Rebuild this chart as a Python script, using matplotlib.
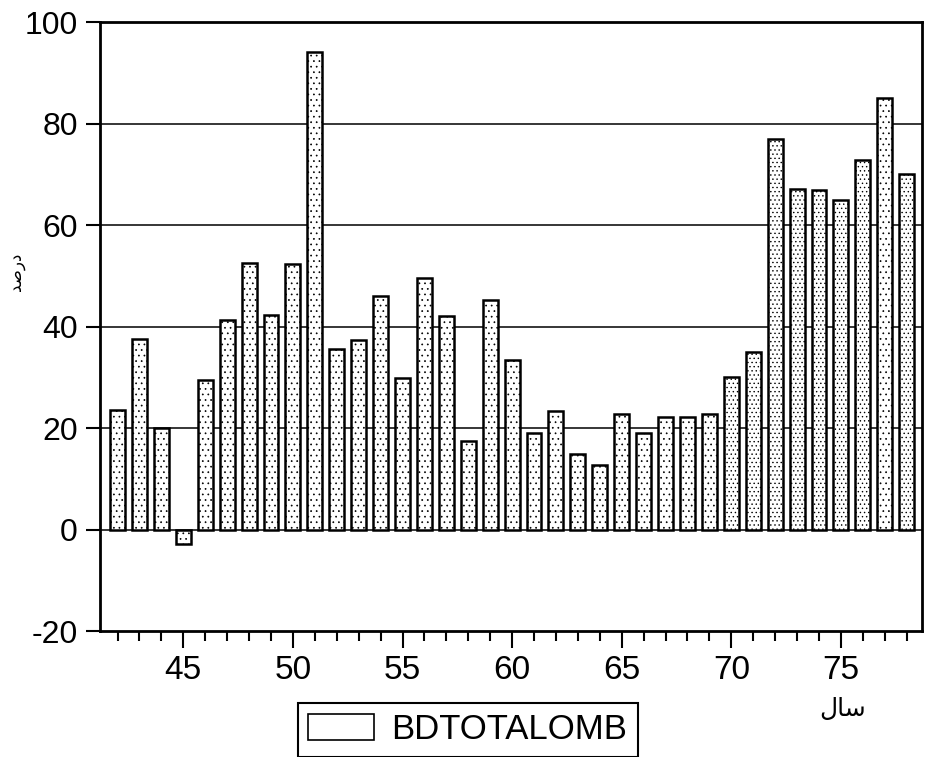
import matplotlib.pyplot as plt
from matplotlib.ticker import MultipleLocator

years = list(range(42, 79))
values = [23.6, 37.6, 20.1, -2.8, 29.4, 41.3, 52.5, 42.3, 52.4, 94.0,
          35.5, 37.4, 46.1, 29.8, 49.5, 42.1, 17.4, 45.3, 33.4, 19.0,
          23.3, 14.8, 12.7, 22.7, 19.0, 22.2, 22.2, 22.8, 30.1, 34.9,
          77.0, 67.1, 67.0, 65.0, 72.9, 85.0, 70.1]
series_name = "BDTOTALOMB"
# arabic labels written in visual order with presentation forms
ylabel_text = "\ufeaa\ufebb\u0631\u062f"   # darsad
xlabel_text = "\ufedd\ufe8e\ufeb3"          # sal

plt.rcParams['font.family'] = ['Liberation Sans', 'DejaVu Sans']
plt.rcParams['hatch.linewidth'] = 0.5
plt.rcParams['axes.unicode_minus'] = False

fig = plt.figure(figsize=(9.26, 7.57), dpi=100)
ax = fig.add_axes([0.108, 0.1664, 0.8877, 0.8045])

dense = {70, 71, 72, 73, 74, 75, 76, 78}
for yr, v in zip(years, values):
    ax.bar(yr, v, width=0.68, color='white', edgecolor='black',
           linewidth=1.8, hatch='....' if yr in dense else '...', zorder=3)

# legend proxy
ax.bar([0], [0], width=0, color='white', edgecolor='black', linewidth=1.2,
       label=series_name)

for g in [0, 20, 40, 60, 80]:
    ax.axhline(g, color='black', linewidth=1.1, zorder=1)

ax.set_xlim(41.2, 78.7)
ax.set_ylim(-20, 100)
ax.xaxis.set_major_locator(MultipleLocator(5))
ax.xaxis.set_minor_locator(MultipleLocator(1))
ax.yaxis.set_major_locator(MultipleLocator(20))

ax.tick_params(axis='x', which='major', direction='out', length=12, width=1.5,
               labelsize=24, pad=5)
ax.tick_params(axis='x', which='minor', direction='out', length=7, width=1.5)
ax.tick_params(axis='y', which='major', direction='out', length=10, width=1.5,
               labelsize=23, pad=6)
for s in ax.spines.values():
    s.set_linewidth(2)

fig.text(0.017, 1 - 272 / 757, ylabel_text, fontsize=12, family='DejaVu Sans',
         rotation=90, ha='center', va='center')
fig.text(0.910, 0.063, xlabel_text, fontsize=18, family='DejaVu Sans',
         ha='center', va='center')

leg = fig.legend(loc='center', bbox_to_anchor=(0.505, 0.036), fontsize=25,
                 fancybox=False, edgecolor='black', framealpha=1,
                 handlelength=1.9, handleheight=0.75, borderpad=0.3,
                 handletextpad=0.5)
leg.get_frame().set_linewidth(1.5)

fig.savefig('out.png', dpi=100)
